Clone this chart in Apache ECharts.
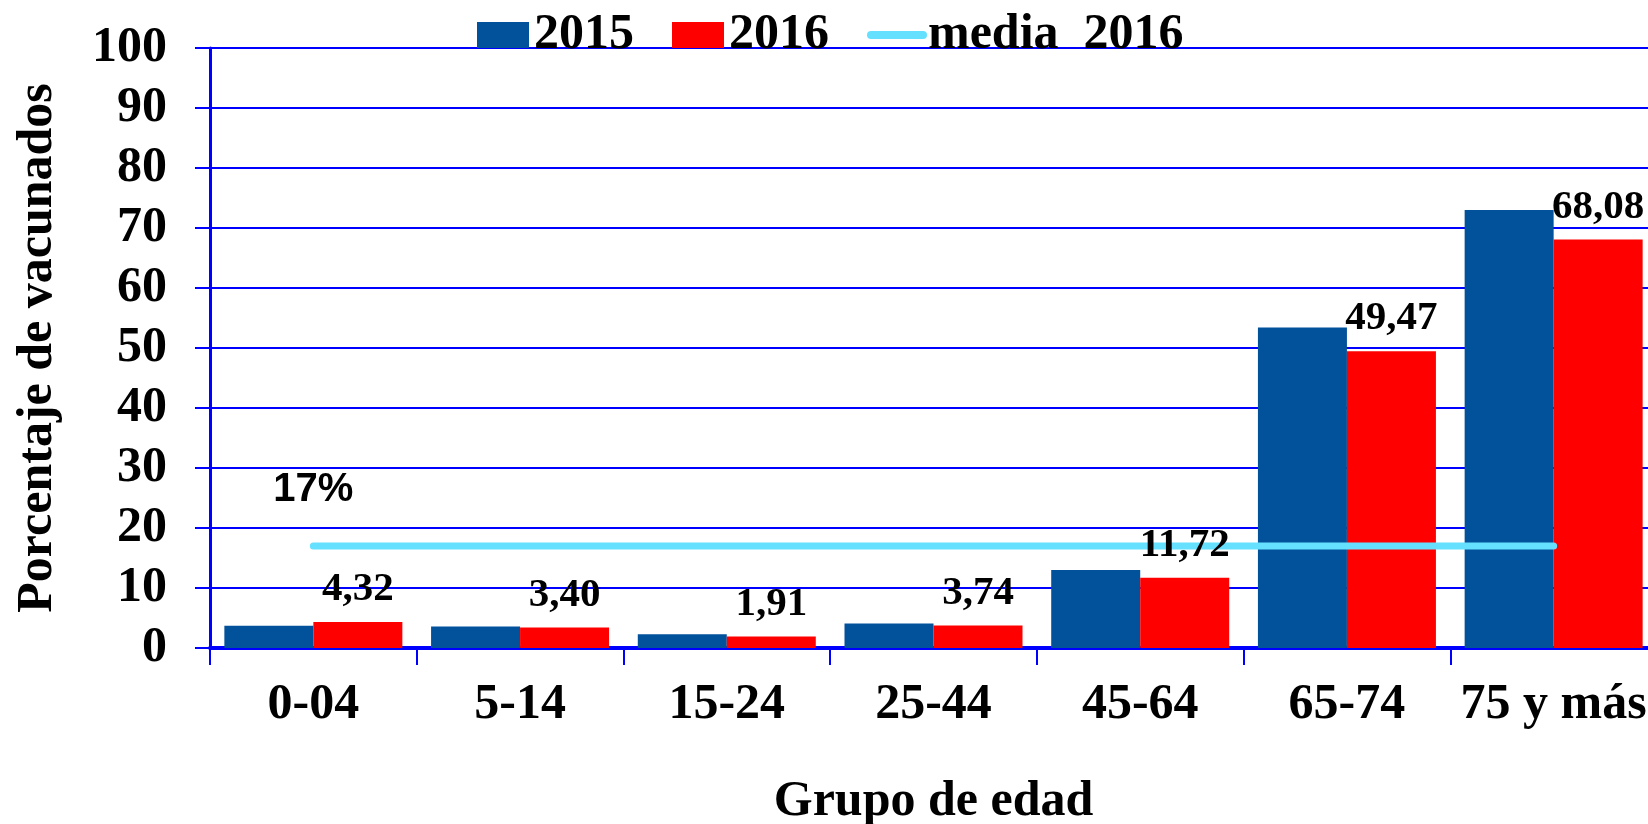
<!DOCTYPE html>
<html>
<head>
<meta charset="utf-8">
<title>Vacunados por grupo de edad</title>
<script src="https://cdn.jsdelivr.net/npm/echarts@6/dist/echarts.min.js"></script>
<style>
  html, body { margin: 0; height: 100%; background: #fff; }
  #main { width: 1648px; height: 824px; }
</style>
</head>
<body>
<div id="main"></div>
<script>
// datos
var grupos = ['0-04', '5-14', '15-24', '25-44', '45-64', '65-74', '75 y más'];
var vac2015 = [3.7, 3.6, 2.3, 4.1, 13.0, 53.4, 73.0];
var vac2016 = [4.32, 3.40, 1.91, 3.74, 11.72, 49.47, 68.08];
var media2016 = [17, 17, 17, 17, 17, 17, 17];
var yTicks = [0, 10, 20, 30, 40, 50, 60, 70, 80, 90, 100];

var serif = "'Liberation Serif', 'Times New Roman', serif";
var azul = '#0000FF';

// barras de altura cero apiladas sobre 2016: solo llevan la etiqueta, por encima de la linea de media
var soloEtiqueta = vac2016.map(function () { return 0; });

var chart = echarts.init(document.getElementById('main'));
var option = {
  animation: false,
  grid: { left: 210, top: 48, width: 1447, height: 600, outerBoundsMode: 'none' },
  legend: {
    data: [
      { name: '2015', icon: 'rect' },
      { name: '2016', icon: 'rect' },
      { name: 'media  2016', lineStyle: { width: 8, cap: 'round' } }
    ],
    left: 472,
    top: 5,
    itemWidth: 52,
    itemHeight: 26,
    itemGap: 38,
    textStyle: { fontFamily: serif, fontWeight: 'bold', fontSize: 50, color: '#000' }
  },
  xAxis: {
    type: 'category',
    data: grupos,
    name: 'Grupo de edad',
    nameLocation: 'middle',
    nameGap: 129,
    nameTextStyle: { fontFamily: serif, fontWeight: 'bold', fontSize: 50, color: '#000' },
    axisLine: { lineStyle: { color: azul, width: 4 } },
    axisTick: { show: true, length: 17, lineStyle: { color: azul, width: 2 } },
    axisLabel: { interval: 0, fontFamily: serif, fontWeight: 'bold', fontSize: 50, color: '#000', margin: 32 }
  },
  yAxis: {
    type: 'value',
    min: yTicks[0],
    max: yTicks[yTicks.length - 1],
    interval: 10,
    name: 'Porcentaje de vacunados',
    nameLocation: 'middle',
    nameGap: 147,
    nameTextStyle: { fontFamily: serif, fontWeight: 'bold', fontSize: 50, color: '#000' },
    axisLine: { show: true, lineStyle: { color: azul, width: 3 } },
    axisTick: { show: true, length: 15, lineStyle: { color: azul, width: 2 } },
    axisLabel: { fontFamily: serif, fontWeight: 'bold', fontSize: 50, color: '#000', margin: 43 },
    splitLine: { show: true, lineStyle: { color: azul, width: 2 } }
  },
  series: [
    {
      name: '2015',
      type: 'bar',
      data: vac2015,
      barWidth: 89,
      barGap: '0%',
      z: 2,
      itemStyle: { color: '#02519B' }
    },
    {
      name: '2016',
      type: 'bar',
      stack: 'a2016',
      data: vac2016,
      barWidth: 89,
      barGap: '0%',
      z: 2,
      itemStyle: { color: '#FF0000' }
    },
    {
      name: 'media  2016',
      type: 'line',
      data: media2016,
      z: 2,
      symbol: 'circle',
      symbolSize: 1,
      showSymbol: true,
      lineStyle: { color: '#66E0FF', width: 7, cap: 'round' },
      itemStyle: { color: 'rgba(102,224,255,0)', borderWidth: 0 },
      label: {
        show: true,
        opacity: 1,
        position: 'top',
        distance: 36,
        fontFamily: "'Liberation Sans', Arial, sans-serif",
        fontWeight: 'bold',
        fontSize: 40,
        color: '#000',
        formatter: function (p) { return p.dataIndex === 0 ? p.value + '%' : ''; }
      }
    },
    {
      name: 'etiquetas 2016',
      type: 'bar',
      stack: 'a2016',
      data: soloEtiqueta,
      barWidth: 89,
      z: 3,
      itemStyle: { color: 'rgba(0,0,0,0)' },
      label: {
        show: true,
        position: 'top',
        distance: 12,
        fontFamily: serif,
        fontWeight: 'bold',
        fontSize: 41,
        color: '#000',
        formatter: function (p) { return vac2016[p.dataIndex].toFixed(2).replace('.', ','); }
      }
    }
  ]
};
chart.setOption(option);
</script>
</body>
</html>
